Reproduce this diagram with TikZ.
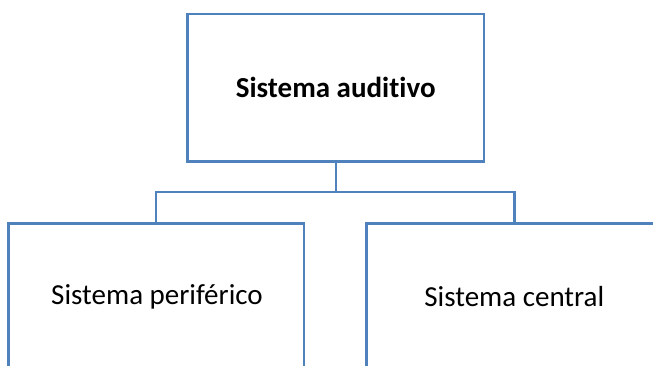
\documentclass[tikz,border=0pt]{standalone}
\usepackage{fontspec}
\setmainfont[Ligatures=NoCommon]{Carlito}
\definecolor{boxblue}{HTML}{4F81BD}
\begin{document}
\begin{tikzpicture}[x=1pt,y=1pt,
  box/.style={draw=boxblue,line width=2.4pt,fill=white,inner sep=0pt,font=\fontsize{29}{35}\selectfont},
  link/.style={draw=boxblue,line width=2.4pt}]
\useasboundingbox (0,0) rectangle (653,-366);
\clip (0,0) rectangle (653,-366);
\node[box,minimum width=296.7pt,minimum height=147.7pt] (top) at (335.7,-87.8) {};
\node[font=\fontsize{29}{35}\selectfont\bfseries] (toplabel) at (335.7,-87) {Sistema auditivo};
\node[box,minimum width=295.7pt,minimum height=200pt] (left) at (156.2,-323.3) {};
\node[font=\fontsize{29}{35}\selectfont] (leftlabel) at (157,-296.7) {Sistema periférico};
\node[box,minimum width=295.7pt,minimum height=200pt] (right) at (514.3,-323.3) {};
\node[font=\fontsize{29}{35}\selectfont] (rightlabel) at (514.3,-296.7) {Sistema central};
\coordinate (junction) at (335.7,-192.3);
\draw[link] (top.south) -- (junction);
\draw[link] (junction) -| (left.north);
\draw[link] (junction) -| (right.north);
\end{tikzpicture}
\end{document}
